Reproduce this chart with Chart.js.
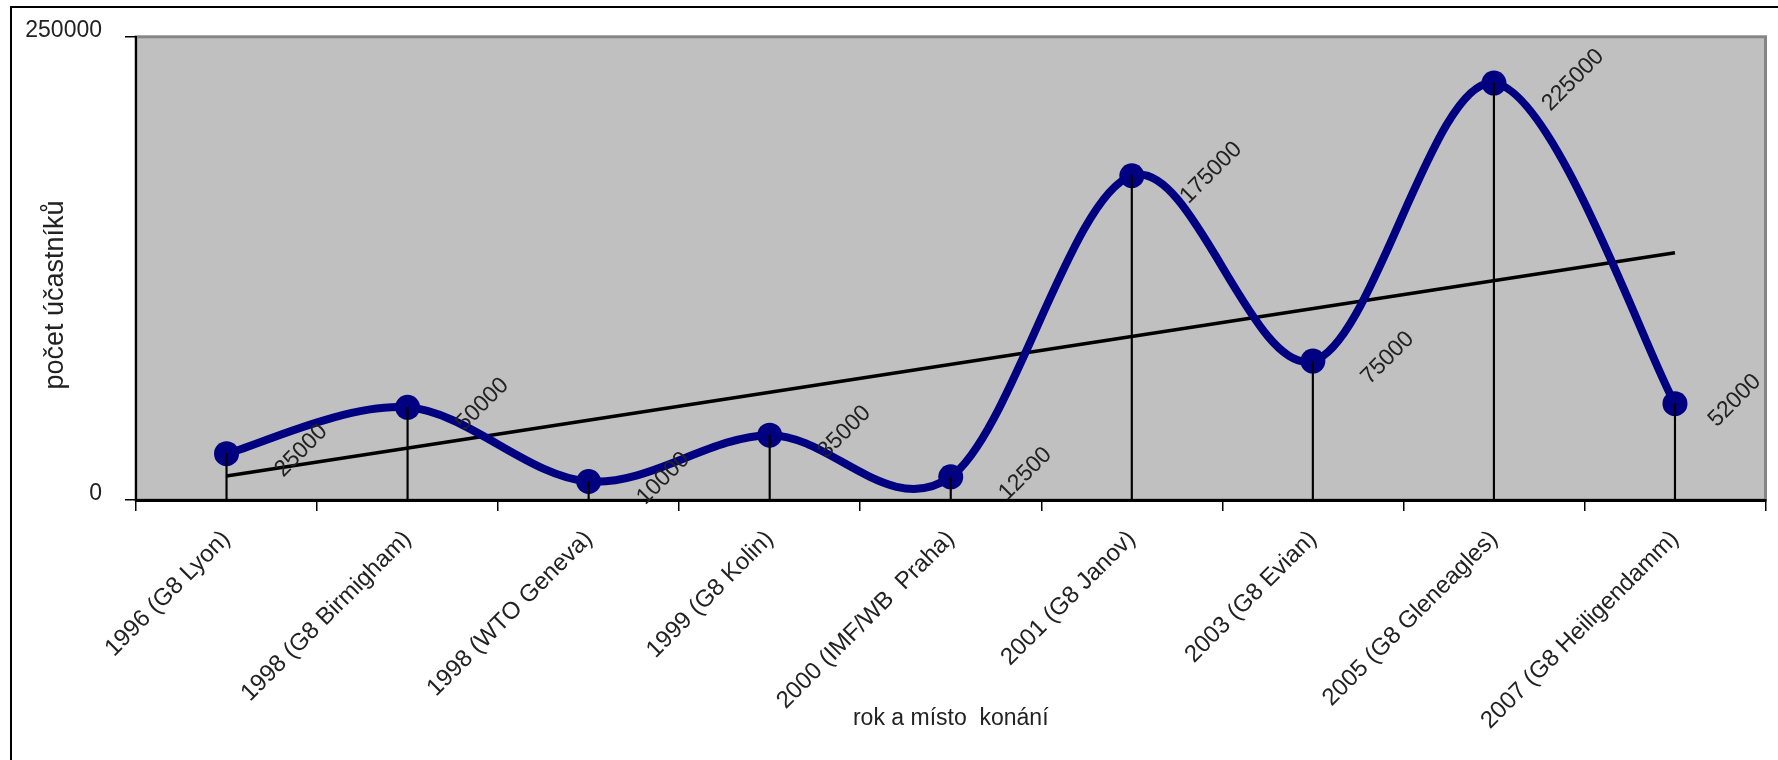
<!DOCTYPE html>
<html>
<head>
<meta charset="utf-8">
<title>počet účastníků</title>
<script src="https://cdn.jsdelivr.net/npm/chart.js@4.4.1/dist/chart.umd.min.js"></script>
<style>
    body { margin: 0; background: #fff; }
    #wrap { width: 1778px; height: 760px; }
</style>
</head>
<body>
<div id="wrap"><canvas id="demoChart" width="1778" height="760"></canvas></div>
<script>
// Categories (rok a místo konání)
const categories = [
    '1996 (G8 Lyon)',
    '1998 (G8 Birmigham)',
    '1998 (WTO Geneva)',
    '1999 (G8 Kolin)',
    '2000 (IMF/WB  Praha)',
    '2001 (G8 Janov)',
    '2003 (G8 Evian)',
    '2005 (G8 Gleneagles)',
    '2007 (G8 Heiligendamm)'
];

// Number of participants
const participants = [25000, 50000, 10000, 35000, 12500, 175000, 75000, 225000, 52000];

// Linear trend line, start and end values
const trendEnds = [13000, 133500];

// Y axis ticks
const yTicks = [0, 250000];

const FONT = "'Liberation Sans', Arial, sans-serif";
const TEXT = '#222';

// Background, outer frame, grey plot area
const backdrop = {
    id: 'backdrop',
    beforeDraw(chart) {
        const ctx = chart.ctx;
        const a = chart.chartArea;
        ctx.save();
        ctx.fillStyle = '#fff';
        ctx.fillRect(0, 0, chart.width, chart.height);
        ctx.strokeStyle = '#000';
        ctx.lineWidth = 2;
        ctx.beginPath();
        ctx.moveTo(11, chart.height + 2);
        ctx.lineTo(11, 7);
        ctx.lineTo(chart.width + 2, 7);
        ctx.stroke();
        ctx.fillStyle = '#c0c0c0';
        ctx.fillRect(a.left, a.top, a.right - a.left, a.bottom - a.top);
        ctx.strokeStyle = '#858585';
        ctx.lineWidth = 3;
        ctx.strokeRect(a.left, a.top, a.right - a.left, a.bottom - a.top);
        ctx.restore();
    }
};

// Excel style smoothing: uniform Catmull-Rom control points on the library's points
const excelSmooth = {
    id: 'excelSmooth',
    beforeDatasetDraw(chart, args) {
        if (args.index !== 1) return;
        const pts = args.meta.data;
        const n = pts.length;
        for (let i = 0; i < n; i++) {
            const prev = pts[Math.max(i - 1, 0)];
            const next = pts[Math.min(i + 1, n - 1)];
            const p = pts[i];
            const dx = (next.x - prev.x) / 6;
            const dy = (next.y - prev.y) / 6;
            p.cp1x = p.x - dx;
            p.cp1y = p.y - dy;
            p.cp2x = p.x + dx;
            p.cp2y = p.y + dy;
        }
        args.meta.dataset._pointsUpdated = true;
        args.meta.dataset._path = undefined;
    }
};

// Rotated value labels next to each point, plus the y title
const valueLabels = {
    id: 'valueLabels',
    afterDatasetsDraw(chart) {
        const ctx = chart.ctx;
        const a = chart.chartArea;
        const meta = chart.getDatasetMeta(1);
        ctx.save();
        ctx.font = '23px ' + FONT;
        ctx.fillStyle = TEXT;
        ctx.textAlign = 'center';
        ctx.textBaseline = 'middle';
        meta.data.forEach((pt, i) => {
            const txt = String(participants[i]);
            const w = ctx.measureText(txt).width;
            const boxW = (w + 23) * Math.SQRT1_2;
            let cx = pt.x + 44 + boxW / 2;
            cx = Math.min(cx, a.right - boxW / 2);
            const cy = pt.y - 3;
            ctx.save();
            ctx.translate(cx, cy);
            ctx.rotate(-Math.PI / 4);
            ctx.fillText(txt, 0, 0);
            ctx.restore();
        });

        // y axis title
        ctx.font = '27px ' + FONT;
        ctx.translate(56, 295);
        ctx.rotate(-Math.PI / 2);
        ctx.fillText('počet účastníků', 0, 0);
        ctx.restore();
    }
};

const ctx = document.getElementById('demoChart').getContext('2d');
const demoChart = new Chart(ctx, {
    type: 'line',
    data: {
        labels: categories,
        datasets: [{
            // trend line
            data: categories.map((c, i) => i === 0 ? trendEnds[0] : (i === categories.length - 1 ? trendEnds[1] : null)),
            spanGaps: true,
            borderColor: '#000',
            borderWidth: 3.5,
            pointRadius: 0,
            tension: 0,
            order: 3
        }, {
            label: 'počet účastníků',
            data: participants,
            borderColor: '#000080',
            borderWidth: 8,
            pointRadius: 12.5,
            pointBackgroundColor: '#000080',
            pointBorderWidth: 0,
            tension: 0.5,
            capBezierPoints: false,
            order: 2
        }, {
            // drop lines
            type: 'bar',
            data: participants,
            backgroundColor: '#000',
            barThickness: 1.5,
            order: 1
        }]
    },
    options: {
        responsive: false,
        devicePixelRatio: 1,
        animation: false,
        layout: { padding: { top: 35, right: 12, left: 0, bottom: 0 } },
        plugins: {
            legend: { display: false },
            tooltip: { enabled: false }
        },
        scales: {
            x: {
                type: 'category',
                offset: true,
                afterFit: scale => { scale.height = 260; },
                grid: {
                    offset: true,
                    drawOnChartArea: false,
                    drawTicks: true,
                    tickLength: 11,
                    color: '#000',
                    lineWidth: 1.5
                },
                border: { display: true, color: '#000', width: 3 },
                ticks: {
                    autoSkip: false,
                    minRotation: 45,
                    maxRotation: 45,
                    padding: 14,
                    color: TEXT,
                    font: { family: FONT, size: 24 }
                },
                title: {
                    display: true,
                    text: 'rok a místo  konání',
                    color: TEXT,
                    font: { family: FONT, size: 23 },
                    padding: { top: 0, bottom: 28 }
                }
            },
            y: {
                min: yTicks[0],
                max: yTicks[1],
                afterFit: scale => { scale.width = 136; },
                afterBuildTicks: scale => { scale.ticks = yTicks.map(v => ({ value: v })); },
                grid: {
                    drawOnChartArea: false,
                    drawTicks: true,
                    tickLength: 11,
                    color: '#000',
                    lineWidth: 1.5
                },
                border: { display: true, color: '#000', width: 2 },
                ticks: {
                    padding: 23,
                    labelOffset: -6,
                    color: TEXT,
                    font: { family: FONT, size: 23 },
                    callback: v => String(v)
                }
            }
        }
    },
    plugins: [backdrop, excelSmooth, valueLabels]
});
</script>
</body>
</html>
